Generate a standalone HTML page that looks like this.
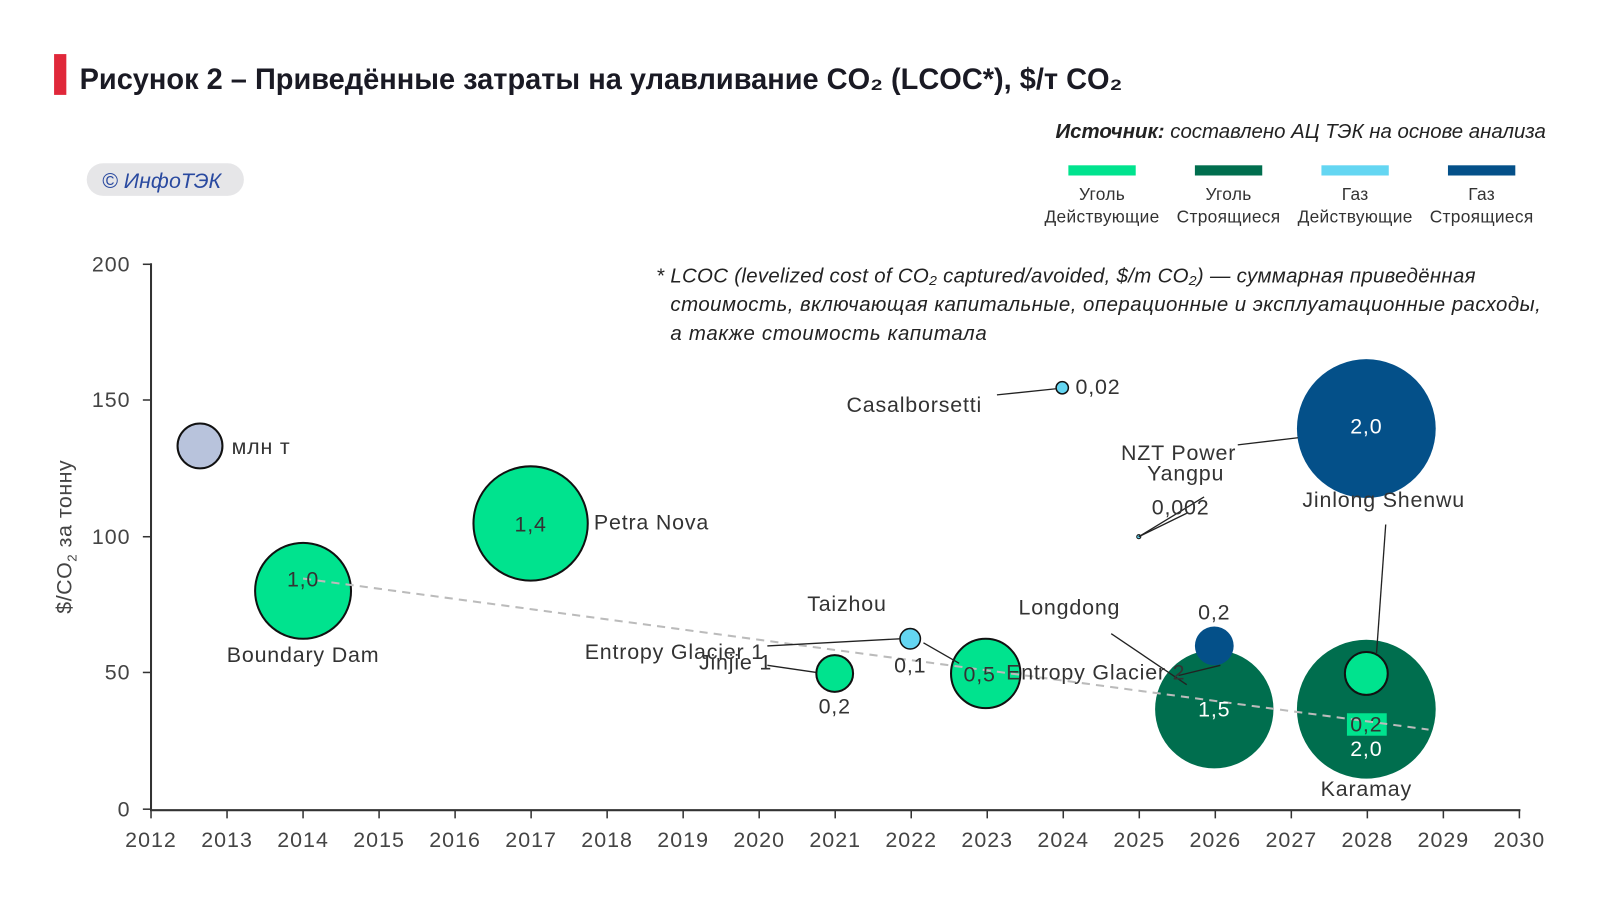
<!DOCTYPE html>
<html><head><meta charset="utf-8"><style>
body{margin:0;background:#fff;width:1600px;height:900px;overflow:hidden;font-family:"Liberation Sans","DejaVu Sans",sans-serif}
</style></head><body>
<svg width="1600" height="900" viewBox="0 0 1568 882" xmlns="http://www.w3.org/2000/svg" font-family="Liberation Sans, DejaVu Sans, sans-serif">
<rect x="53" y="53" width="12" height="40" fill="#e0283a"/>
<text x="78" y="87" font-size="29" font-weight="bold" fill="#1a1a24" textLength="1022" lengthAdjust="spacingAndGlyphs">Рисунок 2 – Приведённые затраты на улавливание CO₂ (LCOC*), $/т CO₂</text>
<text x="1515" y="135" font-size="20" font-style="italic" fill="#222" text-anchor="end"><tspan font-weight="bold">Источник:</tspan> составлено АЦ ТЭК на основе анализа</text>
<rect x="85" y="160" width="154" height="32" rx="16" fill="#e6e6e8"/>
<text x="100" y="184" font-size="21" font-style="italic" fill="#2a4aa0">© ИнфоТЭК</text>
<g font-size="17" fill="#333" text-anchor="middle" letter-spacing="0.3">
<rect x="1047" y="162" width="66" height="10" fill="#00e38e"/><text x="1080" y="196">Уголь</text><text x="1080" y="218">Действующие</text>
<rect x="1171" y="162" width="66" height="10" fill="#006e4e"/><text x="1204" y="196">Уголь</text><text x="1204" y="218">Строящиеся</text>
<rect x="1295" y="162" width="66" height="10" fill="#64d6f2"/><text x="1328" y="196">Газ</text><text x="1328" y="218">Действующие</text>
<rect x="1419" y="162" width="66" height="10" fill="#045089"/><text x="1452" y="196">Газ</text><text x="1452" y="218">Строящиеся</text>
</g>
<g font-size="20" font-style="italic" fill="#222">
<text x="643" y="277" textLength="803" lengthAdjust="spacing">* LCOC (levelized cost of CO₂ captured/avoided, $/m CO₂) — суммарная приведённая</text>
<text x="657" y="305" textLength="853" lengthAdjust="spacing">стоимость, включающая капитальные, операционные и эксплуатационные расходы,</text>
<text x="657" y="333" textLength="310" lengthAdjust="spacing">а также стоимость капитала</text>
</g>
<g stroke="#333" stroke-width="2" fill="none">
<line x1="148" y1="258" x2="148" y2="794"/>
<line x1="147" y1="794" x2="1490" y2="794"/>
</g>
<g stroke="#333" stroke-width="1.5">
<line x1="140" y1="259" x2="148" y2="259"/><line x1="140" y1="392" x2="148" y2="392"/><line x1="140" y1="526" x2="148" y2="526"/><line x1="140" y1="659" x2="148" y2="659"/><line x1="140" y1="793" x2="148" y2="793"/>
</g>
<g font-size="21" fill="#444" text-anchor="end" letter-spacing="1">
<text x="128" y="266">200</text><text x="128" y="399">150</text><text x="128" y="533">100</text><text x="128" y="666">50</text><text x="128" y="800">0</text>
</g>
<text transform="translate(70,526) rotate(-90)" font-size="21" fill="#444" text-anchor="middle" letter-spacing="0.5">$/CO<tspan font-size="13" dy="5">2</tspan><tspan dy="-5"> за тонну</tspan></text>
<g id="xt" font-size="21" fill="#444" text-anchor="middle" letter-spacing="1"></g>
<script>
var g=document.getElementById('xt'),ns="http://www.w3.org/2000/svg";
for(var y=2012;y<=2030;y++){var x=148+(y-2012)*74.5;
var l=document.createElementNS(ns,'line');l.setAttribute('x1',x);l.setAttribute('x2',x);l.setAttribute('y1',794);l.setAttribute('y2',802);l.setAttribute('stroke','#333');l.setAttribute('stroke-width','1.5');g.appendChild(l);
var t=document.createElementNS(ns,'text');t.setAttribute('x',x);t.setAttribute('y',830);t.textContent=y;g.appendChild(t);}
</script>
<circle cx="196" cy="437" r="22" fill="#b8c3dc" stroke="#111" stroke-width="2"/>
<circle cx="297" cy="579" r="47" fill="#00e38e" stroke="#111" stroke-width="2"/>
<circle cx="520" cy="513" r="56" fill="#00e38e" stroke="#111" stroke-width="2"/>
<circle cx="818" cy="660" r="18" fill="#00e38e" stroke="#111" stroke-width="2"/>
<circle cx="892" cy="626" r="10" fill="#64d6f2" stroke="#111" stroke-width="1.5"/>
<circle cx="966" cy="660" r="34" fill="#00e38e" stroke="#111" stroke-width="2"/>
<circle cx="1041" cy="380" r="6" fill="#64d6f2" stroke="#111" stroke-width="1.5"/>
<circle cx="1116" cy="526" r="2" fill="#64d6f2" stroke="#111" stroke-width="1"/>
<circle cx="1190" cy="695" r="58" fill="#006e4e"/>
<circle cx="1190" cy="633" r="19" fill="#045089"/>
<circle cx="1339" cy="695" r="68" fill="#006e4e"/>
<circle cx="1339" cy="420" r="68" fill="#045089"/>
<circle cx="1339" cy="660" r="21" fill="#00e38e" stroke="#111" stroke-width="2"/>
<rect x="1320" y="699" width="39" height="22" fill="#00e38e"/>
<line x1="297" y1="567" x2="1400" y2="715" stroke="#bbb" stroke-width="2" stroke-dasharray="8,6"/>
<g stroke="#222" stroke-width="1.3" fill="none">
<line x1="977" y1="387" x2="1035" y2="381"/>
<line x1="1213" y1="436" x2="1272" y2="429"/>
<line x1="1116" y1="526" x2="1180" y2="487"/>
<line x1="1116" y1="526" x2="1163" y2="503"/>
<line x1="1358" y1="514" x2="1349" y2="640"/>
<line x1="1155" y1="662" x2="1196" y2="652"/>
<line x1="1089" y1="621" x2="1163" y2="671"/>
<line x1="752" y1="633" x2="882" y2="626"/>
<line x1="752" y1="652" x2="800" y2="659"/>
<line x1="905" y1="630" x2="940" y2="650"/>
</g>
<g font-size="21" fill="#333" letter-spacing="0.8">
<text x="227" y="445">млн т</text>
<text x="297" y="575" text-anchor="middle">1,0</text>
<text x="297" y="649" text-anchor="middle">Boundary Dam</text>
<text x="520" y="521" text-anchor="middle">1,4</text>
<text x="582" y="519">Petra Nova</text>
<text x="818" y="699" text-anchor="middle">0,2</text>
<text x="892" y="659" text-anchor="middle">0,1</text>
<text x="830" y="599" text-anchor="middle">Taizhou</text>
<text x="573" y="646">Entropy Glacier 1</text>
<text x="685" y="656">Jinjie 1</text>
<text x="960" y="668" text-anchor="middle">0,5</text>
<text x="986" y="666">Entropy Glacier 2</text>
<text x="1048" y="602" text-anchor="middle">Longdong</text>
<text x="1054" y="386">0,02</text>
<text x="896" y="404" text-anchor="middle">Casalborsetti</text>
<text x="1155" y="451" text-anchor="middle">NZT Power</text>
<text x="1162" y="471" text-anchor="middle">Yangpu</text>
<text x="1157" y="504" text-anchor="middle">0,002</text>
<text x="1190" y="607" text-anchor="middle">0,2</text>
<text x="1356" y="497" text-anchor="middle">Jinlong Shenwu</text>
<text x="1339" y="780" text-anchor="middle">Karamay</text>
<text x="1339" y="717" text-anchor="middle">0,2</text>
</g>
<g font-size="21" fill="#fff" text-anchor="middle" letter-spacing="0.8">
<text x="1190" y="702">1,5</text>
<text x="1339" y="741">2,0</text>
<text x="1339" y="425">2,0</text>
</g>
</svg>
</body></html>
